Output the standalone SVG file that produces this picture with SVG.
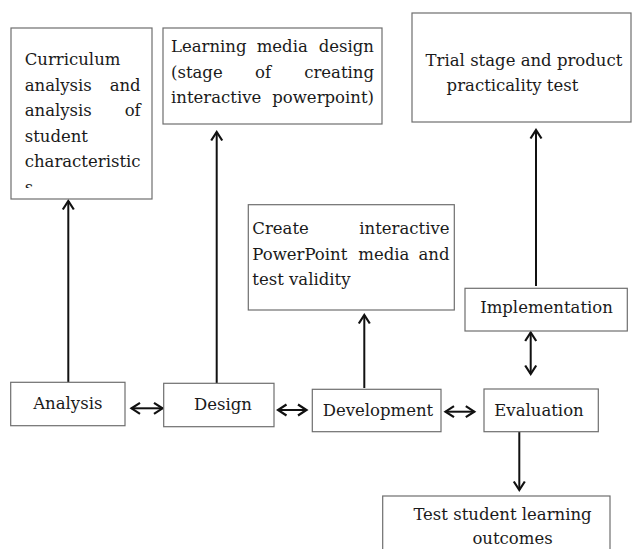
<svg xmlns="http://www.w3.org/2000/svg" width="632" height="549" viewBox="0 0 632 549">
  <defs>
    <style>
      .box { fill: #ffffff; stroke: #6e6e6e; stroke-width: 1.2; }
      .t { font-family: "DejaVu Serif", "Liberation Serif", serif; font-size: 16.5px; fill: #1a1a1a; }
      .c { text-anchor: middle; }
      .e { text-anchor: end; }
      .link { stroke: #111111; stroke-width: 2; fill: none; }
    </style>
    <marker id="head" markerUnits="userSpaceOnUse" markerWidth="14" markerHeight="14" viewBox="-11 -7 13 14" refX="0" refY="0" orient="auto-start-reverse">
      <path d="M-8.5,-5.5 L0,0 L-8.5,5.5" fill="none" stroke="#111111" stroke-width="2.2" stroke-linejoin="miter"/>
    </marker>
    <clipPath id="clipCurr">
      <rect x="11" y="28" width="141" height="160"/>
    </clipPath>
  </defs>

  <rect width="632" height="549" fill="#ffffff"/>

  <!-- connectors -->
  <g id="connectors">
    <line class="link" x1="68.3" y1="382" x2="68.3" y2="201" marker-end="url(#head)"/>
    <line class="link" x1="216.7" y1="383" x2="216.7" y2="132" marker-end="url(#head)"/>
    <line class="link" x1="364.3" y1="388" x2="364.3" y2="315" marker-end="url(#head)"/>
    <line class="link" x1="536" y1="286" x2="536" y2="130" marker-end="url(#head)"/>
    <line class="link" x1="530.7" y1="332.5" x2="530.7" y2="374" marker-start="url(#head)" marker-end="url(#head)"/>
    <line class="link" x1="519.3" y1="432" x2="519.3" y2="490" marker-end="url(#head)"/>
    <line class="link" x1="131.5" y1="408.3" x2="162.5" y2="408.3" marker-start="url(#head)" marker-end="url(#head)"/>
    <line class="link" x1="278" y1="410" x2="306.5" y2="410" marker-start="url(#head)" marker-end="url(#head)"/>
    <line class="link" x1="445.5" y1="411.7" x2="474.3" y2="411.7" marker-start="url(#head)" marker-end="url(#head)"/>
  </g>

  <!-- curriculum analysis box (last line is cut by the border) -->
  <g id="curriculum">
    <rect class="box" x="11" y="28" width="141" height="171"/>
    <g clip-path="url(#clipCurr)">
      <text class="t" x="24.7" y="65">Curriculum</text>
      <text class="t" x="24.7" y="90.5">analysis</text>
      <text class="t e" x="140.7" y="90.5">and</text>
      <text class="t" x="24.7" y="116">analysis</text>
      <text class="t e" x="140.7" y="116">of</text>
      <text class="t" x="24.7" y="141.5">student</text>
      <text class="t" x="24.7" y="167">characteristic</text>
      <text class="t" x="24.7" y="192.5">s</text>
    </g>
  </g>

  <g id="media-design">
    <rect class="box" x="163" y="28" width="219" height="96"/>
    <text class="t" x="171" y="52">Learning</text>
    <text class="t" x="256.7" y="52">media</text>
    <text class="t e" x="374" y="52">design</text>
    <text class="t" x="171" y="77.5">(stage</text>
    <text class="t" x="255" y="77.5">of</text>
    <text class="t e" x="374" y="77.5">creating</text>
    <text class="t" x="171" y="103">interactive</text>
    <text class="t e" x="374" y="103">powerpoint)</text>
  </g>

  <g id="trial-stage">
    <rect class="box" x="412" y="13" width="219" height="109"/>
    <text class="t c" x="524" y="66">Trial stage and product</text>
    <text class="t c" x="512.5" y="91">practicality test</text>
  </g>

  <g id="create-media">
    <rect class="box" x="248.3" y="204.7" width="206" height="105.3"/>
    <text class="t" x="252.3" y="234">Create</text>
    <text class="t e" x="449.5" y="234">interactive</text>
    <text class="t" x="252.3" y="259.5">PowerPoint</text>
    <text class="t" x="358.3" y="259.5">media</text>
    <text class="t e" x="449.5" y="259.5">and</text>
    <text class="t" x="252.3" y="285">test validity</text>
  </g>

  <g id="implementation">
    <rect class="box" x="465" y="288.3" width="162.3" height="42.7"/>
    <text class="t c" x="546.5" y="313">Implementation</text>
  </g>

  <g id="analysis">
    <rect class="box" x="10.7" y="382.3" width="114.3" height="43.4"/>
    <text class="t c" x="67.8" y="408.5">Analysis</text>
  </g>

  <g id="design">
    <rect class="box" x="163.7" y="383.3" width="110.3" height="43.4"/>
    <text class="t c" x="223" y="410">Design</text>
  </g>

  <g id="development">
    <rect class="box" x="312.3" y="389.3" width="128.7" height="42.4"/>
    <text class="t c" x="378" y="416">Development</text>
  </g>

  <g id="evaluation">
    <rect class="box" x="484" y="389" width="114.3" height="42.7"/>
    <text class="t c" x="539" y="416">Evaluation</text>
  </g>

  <g id="test-outcomes">
    <rect class="box" x="382.7" y="496" width="227.3" height="60"/>
    <text class="t c" x="502.5" y="520">Test student learning</text>
    <text class="t c" x="512.5" y="543.5">outcomes</text>
  </g>
</svg>
